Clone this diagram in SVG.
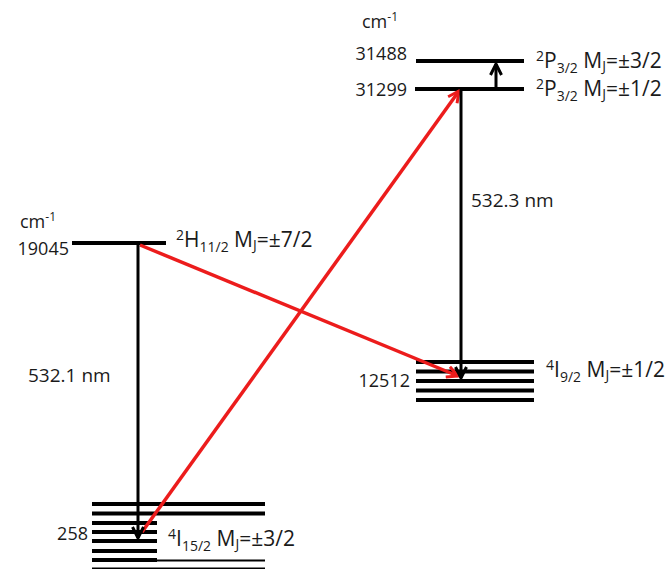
<svg xmlns="http://www.w3.org/2000/svg" width="670" height="569" viewBox="0 0 670 569">
<defs>
<style>
text{font-family:"Open Sans","Liberation Sans",sans-serif;font-size:18px;fill:#1a1a1a}
.s{font-size:12px}
.lb{font-size:21px}
.lb .s{font-size:14px}
.nm{font-size:19px}
.lvl{stroke:#000;stroke-width:4;fill:none}
.thin{stroke:#000;stroke-width:2;fill:none}
.blk{stroke:#000;stroke-width:3;fill:none}
.red{stroke:#ec1c1c;stroke-width:3.5;fill:none}
</style>
<marker id="ab" viewBox="0 0 14 14" refX="12" refY="7" markerWidth="14" markerHeight="14" markerUnits="userSpaceOnUse" orient="auto"><path d="M1,1.5 L12,7 L1,12.5" fill="none" stroke="#000" stroke-width="3"/></marker>
<marker id="ar" viewBox="0 0 14 14" refX="12" refY="7" markerWidth="14" markerHeight="14" markerUnits="userSpaceOnUse" orient="auto"><path d="M1,1.5 L12,7 L1,12.5" fill="none" stroke="#ec1c1c" stroke-width="3"/></marker>
</defs>
<rect width="670" height="569" fill="#fff"/>
<g id="level-31488">
<line class="lvl" x1="416" y1="61" x2="524" y2="61"/>
<text x="362" y="28">cm<tspan class="s" dy="-7">-1</tspan></text>
<text x="407" y="60" text-anchor="end">31488</text>
<text class="lb" x="536" y="68"><tspan class="s" dy="-7">2</tspan><tspan dy="7">P</tspan><tspan class="s" dy="5">3/2</tspan><tspan dy="-5"> M</tspan><tspan class="s" dy="3">J</tspan><tspan dy="-3">=±3/2</tspan></text>
</g>
<g id="level-31299">
<line class="lvl" x1="415" y1="89" x2="524" y2="89"/>
<text x="407" y="96" text-anchor="end">31299</text>
<text class="lb" x="536" y="96"><tspan class="s" dy="-7">2</tspan><tspan dy="7">P</tspan><tspan class="s" dy="5">3/2</tspan><tspan dy="-5"> M</tspan><tspan class="s" dy="3">J</tspan><tspan dy="-3">=±1/2</tspan></text>
</g>
<g id="level-19045">
<line class="lvl" x1="72" y1="243" x2="166" y2="243"/>
<text x="20" y="228">cm<tspan class="s" dy="-7">-1</tspan></text>
<text x="69" y="255" text-anchor="end">19045</text>
<text class="lb" x="176" y="247"><tspan class="s" dy="-7">2</tspan><tspan dy="7">H</tspan><tspan class="s" dy="5">11/2</tspan><tspan dy="-5"> M</tspan><tspan class="s" dy="3">J</tspan><tspan dy="-3">=±7/2</tspan></text>
</g>
<g id="level-12512">
<line class="lvl" x1="416" y1="362" x2="534" y2="362"/>
<line class="lvl" x1="416" y1="371.5" x2="534" y2="371.5"/>
<line class="lvl" x1="416" y1="381" x2="534" y2="381"/>
<line class="lvl" x1="416" y1="390.5" x2="534" y2="390.5"/>
<line class="lvl" x1="416" y1="400" x2="534" y2="400"/>
<text x="410" y="387" text-anchor="end">12512</text>
<text class="lb" x="546" y="377"><tspan class="s" dy="-7">4</tspan><tspan dy="7">I</tspan><tspan class="s" dy="5">9/2</tspan><tspan dy="-5"> M</tspan><tspan class="s" dy="3">J</tspan><tspan dy="-3">=±1/2</tspan></text>
</g>
<g id="level-258">
<line class="lvl" x1="92" y1="504" x2="265" y2="504"/>
<line class="lvl" x1="92" y1="513.5" x2="265" y2="513.5"/>
<line class="lvl" x1="92" y1="523" x2="157" y2="523"/>
<line class="lvl" x1="92" y1="532" x2="157" y2="532"/>
<line class="lvl" x1="92" y1="541" x2="157" y2="541"/>
<line class="lvl" x1="92" y1="551" x2="157" y2="551"/>
<line class="lvl" x1="92" y1="560" x2="157" y2="560"/>
<line class="thin" x1="157" y1="560.5" x2="265" y2="560.5"/>
<line class="thin" x1="92" y1="568.5" x2="265" y2="568.5"/>
<text x="88" y="540" text-anchor="end">258</text>
<text class="lb" x="168" y="546"><tspan class="s" dy="-7">4</tspan><tspan dy="7">I</tspan><tspan class="s" dy="5">15/2</tspan><tspan dy="-5"> M</tspan><tspan class="s" dy="3">J</tspan><tspan dy="-3">=±3/2</tspan></text>
</g>
<g id="connectors">
<line class="red" x1="140" y1="245" x2="458" y2="376" marker-end="url(#ar)"/>
<line class="red" x1="142" y1="532" x2="459" y2="91" marker-end="url(#ar)"/>
<line class="blk" x1="138" y1="243" x2="138" y2="538" marker-end="url(#ab)"/>
<line class="blk" x1="461" y1="89" x2="461" y2="378" marker-end="url(#ab)"/>
<line class="blk" x1="496" y1="88" x2="496" y2="64" marker-end="url(#ab)"/>
<text class="nm" x="28" y="382">532.1 nm</text>
<text class="nm" x="471" y="207">532.3 nm</text>
</g>
</svg>
